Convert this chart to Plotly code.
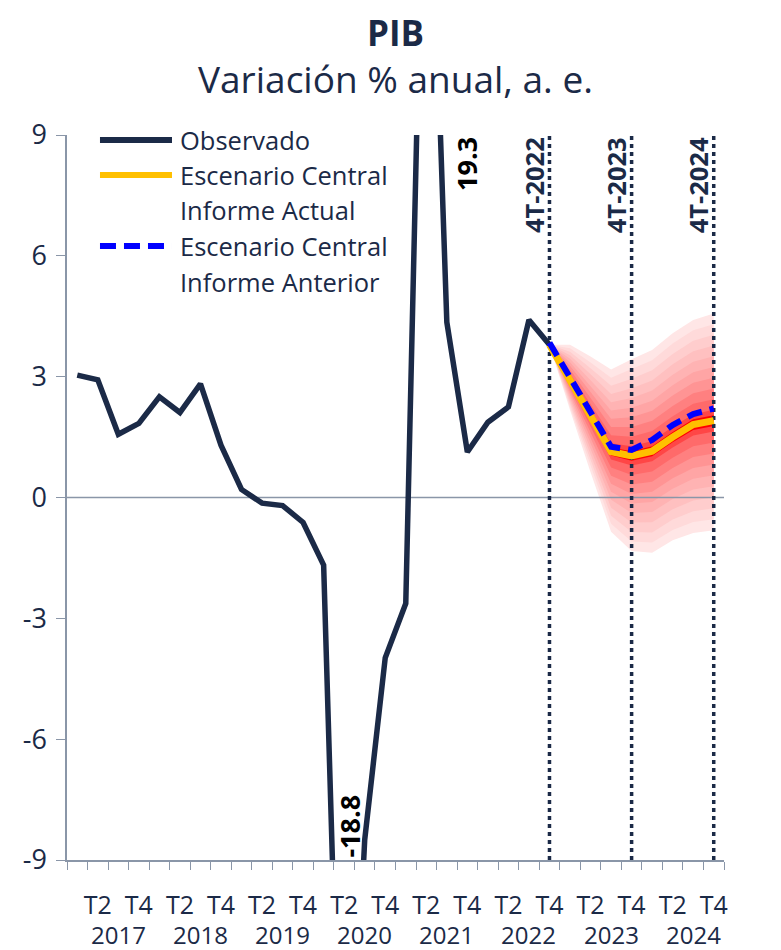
import plotly.graph_objects as go

# categories
years = [2017, 2018, 2019, 2020, 2021, 2022, 2023, 2024]
quarter_names = ["T1", "T2", "T3", "T4"]
periods = [f"{q}-{y}" for y in years for q in quarter_names]

# observed GDP, annual % change (s.a.), T1-2017 .. T4-2022
observado = [3.04, 2.92, 1.57, 1.84,
             2.50, 2.11, 2.82, 1.30,
             0.20, -0.14, -0.20, -0.62,
             -1.68, -18.8, -8.5, -3.98,
             -2.63, 19.3, 4.35, 1.13,
             1.87, 2.25, 4.41, 3.79]

# forecast horizon T4-2022 .. T4-2024
forecast_start = "T4-2022"
central_actual = [3.79, 2.92, 2.03, 1.14, 1.03, 1.15, 1.50, 1.81, 1.91]
central_anterior = [3.84, 3.00, 2.12, 1.26, 1.18, 1.43, 1.80, 2.07, 2.21]
fan_upper = [3.79, 3.79, 3.50, 3.18, 3.43, 3.66, 4.08, 4.41, 4.57]
fan_lower = [3.79, 2.17, 0.63, -0.85, -1.33, -1.37, -1.06, -0.88, -0.81]
band_levels = [1.0, 0.9, 0.8, 0.7, 0.6, 0.5, 0.4, 0.3, 0.2, 0.1, 0.05]

marker_periods = ["T4-2022", "T4-2023", "T4-2024"]
marker_labels = ["4T-2022", "4T-2023", "4T-2024"]
tick_labels = ["T2", "T4"]
y_ticks = [-9, -6, -3, 0, 3, 6, 9]

NAVY = "#1B2A47"
AXIS = "#8A96A8"
FONT = "Open Sans"
band_colors = ["#FFE6E6", "#FFDADA", "#FFCDCD", "#FFC0C0", "#FFB3B3",
               "#FFA5A5", "#FF9494", "#FF8080", "#FF6A6A", "#FF4646", "#FF0000"]

x_all = list(range(len(periods)))
i0 = periods.index(forecast_start)
x_fc = x_all[i0:i0 + len(central_actual)]
ymin, ymax = y_ticks[0], y_ticks[-1]

fig = go.Figure()

# fan chart, outer band first
for lev, col in zip(band_levels, band_colors):
    up = [c + lev * (u - c) for c, u in zip(central_actual, fan_upper)]
    lo = [c - lev * (c - l) for c, l in zip(central_actual, fan_lower)]
    fig.add_trace(go.Scatter(x=x_fc + x_fc[::-1], y=up + lo[::-1], fill="toself",
                             fillcolor=col, line=dict(width=0), mode="lines",
                             hoverinfo="skip", showlegend=False))

# zero line
fig.add_trace(go.Scatter(x=[-0.5, len(periods) - 0.5], y=[0, 0], mode="lines",
                         line=dict(color=AXIS, width=1.5), hoverinfo="skip", showlegend=False))

# dotted vertical markers
for p in marker_periods:
    xi = periods.index(p)
    fig.add_trace(go.Scatter(x=[xi, xi], y=[ymin, ymax], mode="lines",
                             line=dict(color=NAVY, width=3.5, dash="4px,4px"),
                             hoverinfo="skip", showlegend=False))

fig.add_trace(go.Scatter(x=x_all[:len(observado)], y=observado, mode="lines",
                         name="Observado", line=dict(color=NAVY, width=5.5), showlegend=False))
fig.add_trace(go.Scatter(x=x_fc, y=central_actual, mode="lines",
                         name="Escenario Central Informe Actual",
                         line=dict(color="#FFC000", width=7), showlegend=False))
fig.add_trace(go.Scatter(x=x_fc, y=central_anterior, mode="lines",
                         name="Escenario Central Informe Anterior",
                         line=dict(color="#0000FF", width=6, dash="15px,8px"), showlegend=False))

ann = []
# title
ann.append(dict(text="<b>PIB</b>", x=0.5, y=1.141, xref="paper", yref="paper", yanchor="middle",
                showarrow=False, font=dict(size=35, color=NAVY, family=FONT)))
ann.append(dict(text="Variación % anual, a. e.", x=0.5, y=1.0786, xref="paper", yref="paper",
                yanchor="middle", showarrow=False, font=dict(size=37, color=NAVY, family=FONT)))

# value labels for clipped points
ann.append(dict(text="<b>19.3</b>", x=periods.index("T2-2021") + 1.93, y=ymax, yanchor="top",
                textangle=-90, showarrow=False, font=dict(size=27, color="black", family=FONT)))
ann.append(dict(text="<b>-18.8</b>", x=periods.index("T2-2020") + 0.24, y=ymin, yanchor="bottom",
                textangle=-90, showarrow=False, font=dict(size=27, color="black", family=FONT)))

for p, lab in zip(marker_periods, marker_labels):
    ann.append(dict(text=f"<b>{lab}</b>", x=periods.index(p) - 0.75, y=ymax, yanchor="top",
                    textangle=-90, showarrow=False, font=dict(size=25.5, color=NAVY, family=FONT)))

# year row under the quarter ticks
for k, yr in enumerate(years):
    ann.append(dict(text=str(yr), x=4 * k + 2, y=-0.0772, xref="x", yref="paper",
                    yanchor="top", showarrow=False, font=dict(size=24, color=NAVY, family=FONT)))

# legend (drawn by hand to get the long keys)
leg_x0, leg_x1, leg_tx = 0.0502, 0.1598, 0.169
shapes = [
    dict(type="line", xref="paper", yref="paper", x0=leg_x0, x1=leg_x1, y0=0.9931, y1=0.9931,
         line=dict(color=NAVY, width=6)),
    dict(type="line", xref="paper", yref="paper", x0=leg_x0, x1=leg_x1, y0=0.9448, y1=0.9448,
         line=dict(color="#FFC000", width=6)),
    dict(type="line", xref="paper", yref="paper", x0=leg_x0, x1=leg_x1, y0=0.8469, y1=0.8469,
         line=dict(color="#0000FF", width=6, dash="16px,8px")),
]
for txt, yy in [("Observado", 0.9931), ("Escenario Central", 0.9448), ("Informe Actual", 0.8966),
                ("Escenario Central", 0.8469), ("Informe Anterior", 0.7972)]:
    ann.append(dict(text=txt, x=leg_tx, y=yy, xref="paper", yref="paper", xanchor="left",
                    yanchor="middle", showarrow=False, font=dict(size=25.5, color=NAVY, family=FONT)))

odd_idx = [i for i in x_all if i % 2 == 1]
y_text = [str(v) for v in y_ticks]

# page body has an 8px margin, so the figure is 8px smaller than the window
fig.update_layout(
    width=773, height=942,
    margin=dict(l=59, r=57, t=127, b=90),
    plot_bgcolor="white", paper_bgcolor="white",
    font=dict(family=FONT, size=25, color=NAVY),
    showlegend=False,
    annotations=ann,
    shapes=shapes,
    xaxis=dict(range=[-0.5, len(periods) - 0.5], tickmode="array", tickvals=odd_idx,
               ticktext=[tick_labels[(i // 2) % 2] for i in odd_idx], ticks="",
               ticklabelstandoff=22, showline=True, linecolor=AXIS, linewidth=1.5,
               showgrid=False, zeroline=False, automargin=False,
               minor=dict(tickmode="array", tickvals=[i - 0.5 for i in range(len(periods) + 1)],
                          ticks="outside", ticklen=8, tickcolor=AXIS, tickwidth=1.2, showgrid=False)),
    yaxis=dict(range=[ymin, ymax], tickmode="array", tickvals=y_ticks, ticktext=y_text,
               ticks="outside", ticklen=9, tickcolor=AXIS, tickwidth=1.2, showline=True,
               linecolor=AXIS, linewidth=1.5, showgrid=False, zeroline=False,
               tickfont=dict(size=27), ticklabelstandoff=4, automargin=False),
    yaxis2=dict(range=[ymin, ymax], overlaying="y", side="right", tickmode="array",
                tickvals=y_ticks, ticktext=y_text, ticks="outside", ticklen=9, tickcolor=AXIS,
                tickwidth=1.2, showline=True, linecolor=AXIS, linewidth=1.5, showgrid=False,
                zeroline=False, tickfont=dict(size=27), ticklabelstandoff=10, automargin=False),
)

fig.write_html("out.html")
